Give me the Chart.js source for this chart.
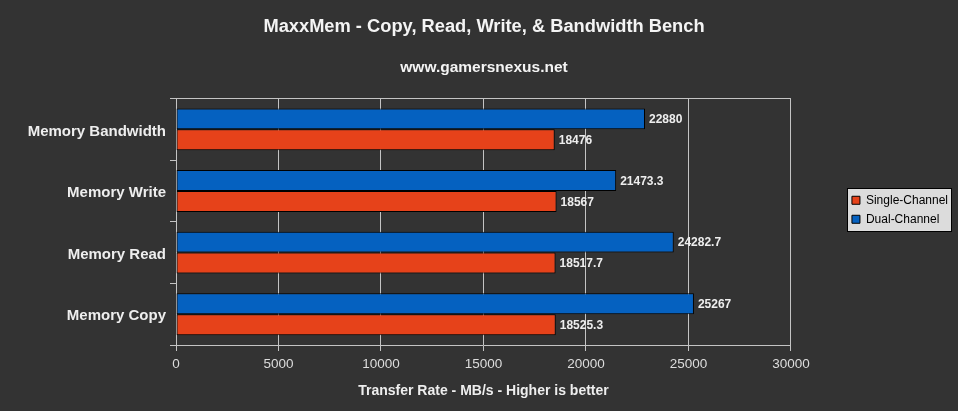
<!DOCTYPE html>
<html>
<head>
<meta charset="utf-8">
<script src="https://cdn.jsdelivr.net/npm/chart.js@4/dist/chart.umd.min.js"></script>
<style>
  html, body { margin: 0; padding: 0; background: #333333; }
  #wrap { width: 958px; height: 411px; position: relative; }
</style>
</head>
<body>
<div id="wrap"><canvas id="myChart"></canvas></div>
<script>
const categories = ["Memory Bandwidth", "Memory Write", "Memory Read", "Memory Copy"];
const singleChannel = [18476, 18567, 18517.7, 18525.3];
const dualChannel = [22880, 21473.3, 24282.7, 25267];
const xTicks = [0, 5000, 10000, 15000, 20000, 25000, 30000];

(() => {
    'use strict';
    const canvas = document.getElementById("myChart");
    if (!canvas) {
        return;
    }

    const gridGray = "#c4c4c4";
    const textLight = "#eeeeee";
    const font = "'Liberation Sans', Arial, sans-serif";
    const legendGap = 54;

    // push the legend away from the plot and draw its grey box
    const legendBox = {
        id: "legendBox",
        afterInit(chart) {
            const lg = chart.legend;
            const fit = lg.fit;
            lg.fit = function () {
                fit.call(this);
                this.width += legendGap;
            };
        },
        afterLayout(chart) {
            const lg = chart.legend;
            lg.left += legendGap;
            lg.top -= 12;
            lg.bottom -= 12;
        },
        beforeDraw(chart) {
            const hb = chart.legend.legendHitBoxes;
            if (!hb || !hb.length) return;
            const ctx = chart.ctx;
            const l = Math.min(...hb.map(b => b.left)) - 5;
            const r = Math.max(...hb.map(b => b.left + b.width)) + 3;
            const t = hb[0].top - 6;
            const last = hb[hb.length - 1];
            const b = last.top + last.height + 6;
            ctx.save();
            ctx.fillStyle = "#dcdcdc";
            ctx.strokeStyle = "#000000";
            ctx.lineWidth = 1;
            ctx.fillRect(Math.round(l) + 0.5, Math.round(t) + 0.5, Math.round(r - l), Math.round(b - t));
            ctx.strokeRect(Math.round(l) + 0.5, Math.round(t) + 0.5, Math.round(r - l), Math.round(b - t));
            ctx.restore();
        }
    };

    // value labels at the end of each bar
    const valueLabels = {
        id: "valueLabels",
        afterDatasetsDraw(chart) {
            const ctx = chart.ctx;
            ctx.save();
            ctx.font = "bold 12px " + font;
            ctx.fillStyle = textLight;
            ctx.textAlign = "left";
            ctx.textBaseline = "middle";
            chart.data.datasets.forEach((ds, i) => {
                chart.getDatasetMeta(i).data.forEach((bar, j) => {
                    ctx.fillText(String(ds.data[j]), bar.x + 4, bar.y + 1);
                });
            });
            ctx.restore();
        }
    };

    new Chart(canvas.getContext("2d"), {
        type: "bar",
        data: {
            labels: categories,
            datasets: [
                {
                    label: "Dual-Channel",
                    data: dualChannel,
                    backgroundColor: "#0561c0",
                    borderColor: "#000000",
                    borderWidth: 1,
                    borderSkipped: false
                },
                {
                    label: "Single-Channel",
                    data: singleChannel,
                    backgroundColor: "#e6421a",
                    borderColor: "#000000",
                    borderWidth: 1,
                    borderSkipped: false
                }
            ]
        },
        options: {
            indexAxis: "y",
            responsive: true,
            maintainAspectRatio: false,
            animation: false,
            categoryPercentage: 0.68,
            barPercentage: 1.0,
            layout: {
                padding: { left: 10, right: 0, top: 0, bottom: 0 }
            },
            plugins: {
                title: {
                    display: true,
                    text: "MaxxMem - Copy, Read, Write, & Bandwidth Bench",
                    color: "#f4f4f4",
                    font: { family: font, size: 18.3, weight: "bold" },
                    padding: { top: 16, bottom: 0 }
                },
                subtitle: {
                    display: true,
                    text: "www.gamersnexus.net",
                    color: "#f4f4f4",
                    font: { family: font, size: 15.5, weight: "bold" },
                    padding: { top: 20, bottom: 22 }
                },
                legend: {
                    display: true,
                    position: "right",
                    fullSize: false,
                    reverse: true,
                    labels: {
                        boxWidth: 8,
                        boxHeight: 8,
                        padding: 7,
                        color: "#000000",
                        font: { family: font, size: 12 }
                    }
                },
                tooltip: { enabled: false }
            },
            scales: {
                x: {
                    min: 0,
                    max: 30000,
                    afterBuildTicks(scale) {
                        scale.ticks = xTicks.map(v => ({ value: v }));
                    },
                    afterFit(scale) {
                        scale.height = 66;
                    },
                    grid: {
                        color: gridGray,
                        tickColor: gridGray,
                        tickLength: 6,
                        lineWidth: 1
                    },
                    border: { color: gridGray },
                    ticks: {
                        color: "#dddddd",
                        padding: 5,
                        font: { family: font, size: 13.5 },
                        callback: v => String(v)
                    },
                    title: {
                        display: true,
                        text: "Transfer Rate - MB/s - Higher is better",
                        color: textLight,
                        font: { family: font, size: 14, weight: "bold" },
                        padding: { top: 0, bottom: 11 }
                    }
                },
                y: {
                    afterFit(scale) {
                        scale.width = 166;
                    },
                    grid: {
                        color: ctx => (ctx.index === 0 ? gridGray : "transparent"),
                        tickColor: gridGray,
                        tickLength: 6,
                        lineWidth: 1
                    },
                    border: { color: gridGray },
                    ticks: {
                        color: textLight,
                        padding: 4,
                        labelOffset: 2,
                        font: { family: font, size: 15, weight: "bold" }
                    }
                }
            }
        },
        plugins: [legendBox, valueLabels]
    });
})();
</script>
</body>
</html>
